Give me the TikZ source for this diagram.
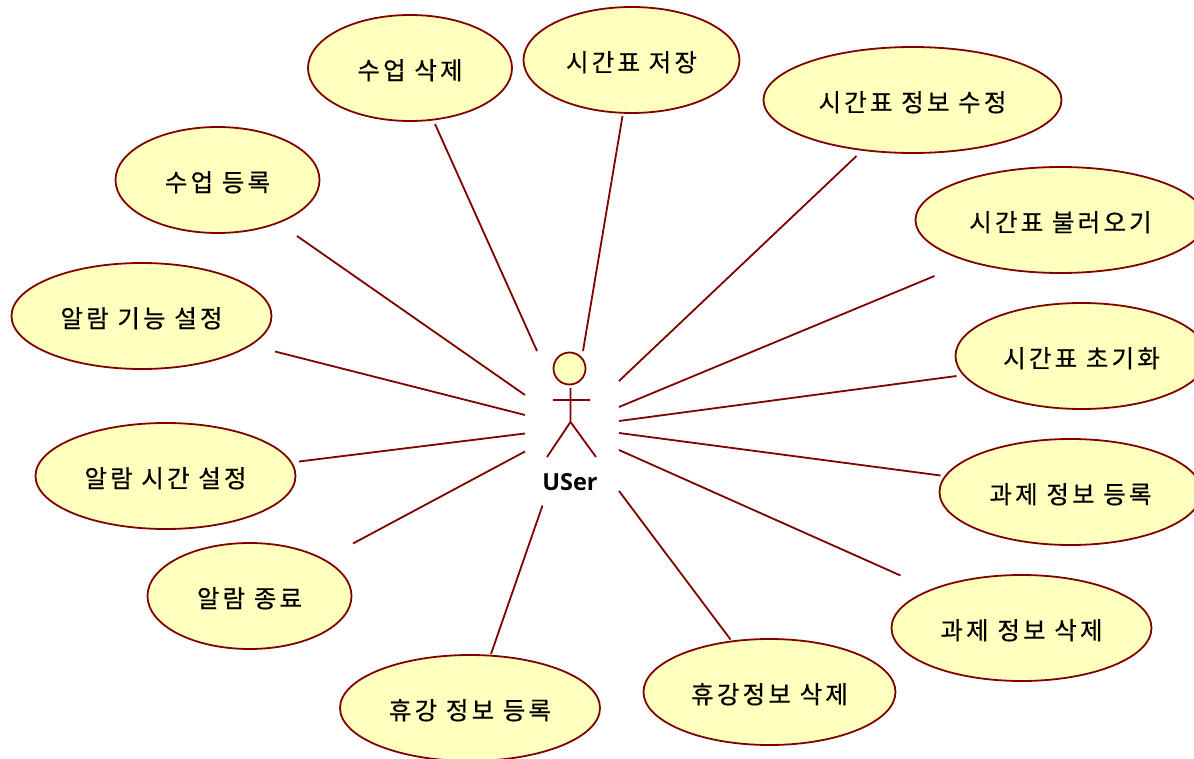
\documentclass[tikz,border=0pt]{standalone}
\usepackage{fontspec}
\usetikzlibrary{shapes.geometric}
\newfontfamily\krfont[LetterSpace=13,FakeBold=0.5]{Noto Sans CJK KR}
\newfontfamily\actorfont{Open Sans}
\definecolor{umlline}{RGB}{128,0,0}
\definecolor{umlfill}{RGB}{255,255,190}
\tikzset{
  x=1pt,y=-1pt,
  usecase/.style={ellipse,draw=umlline,fill=umlfill,line width=1.8pt,inner sep=0pt,
    minimum height=106pt,font=\krfont\fontsize{24.5}{28}\selectfont,text=black,
    text depth=0pt,text height=23pt},
  assoc/.style={draw=umlline,line width=1.8pt},
  limb/.style={draw=umlline,line width=1.8pt},
}
\begin{document}
\begin{tikzpicture}
\useasboundingbox (0,0) rectangle (1194,759);
\clip (0,0) rectangle (1194,759);
% use cases
\node[usecase,minimum width=204pt] (a) at (410,68) {수업 삭제};
\node[usecase,minimum width=216pt] (b) at (631.5,60) {시간표 저장};
\node[usecase,minimum width=298pt] (c) at (912.5,100) {시간표 정보 수정};
\node[usecase,minimum width=204pt] (d) at (217.5,180) {수업 등록};
\node[usecase,minimum width=290pt] (e) at (1060.5,220) {시간표 불러오기};
\node[usecase,minimum width=252pt] (f) at (1081.5,356) {시간표 초기화};
\node[usecase,minimum width=262pt] (g) at (1070.5,492) {과제 정보 등록};
\node[usecase,minimum width=260pt] (h) at (1021.5,628) {과제 정보 삭제};
\node[usecase,minimum width=252pt] (i) at (769.5,692) {휴강정보 삭제};
\node[usecase,minimum width=260pt] (j) at (470,708) {휴강 정보 등록};
\node[usecase,minimum width=204pt] (k) at (249.5,596) {알람 종료};
\node[usecase,minimum width=260pt] (l) at (165.5,476) {알람 시간 설정};
\node[usecase,minimum width=260pt] (m) at (141.5,316) {알람 기능 설정};
% actor
\node[circle,draw=umlline,fill=umlfill,line width=1.8pt,minimum size=32pt,inner sep=0pt] (head) at (569.5,368.5) {};
\coordinate (neck) at (570.5,388);
\coordinate (hip) at (570.5,422);
\coordinate (armL) at (553,400);
\coordinate (armR) at (590,400);
\coordinate (footL) at (547,457);
\coordinate (footR) at (596,457);
\draw[limb] (neck) -- (hip) (armL) -- (armR) (footL) -- (hip) -- (footR);
\node[font=\actorfont\bfseries\fontsize{23.5}{26}\selectfont,text=black] (actor) at (570,482) {USer};
% connector end points
\foreach \n/\x/\y in {
  a0/537/351, a1/435/124,
  b0/583/351, b1/622.5/116,
  c0/619/381, c1/856.5/156,
  d0/525/395, d1/297/236,
  e0/619/407, e1/934.5/276,
  f0/619/421, f1/956.5/376,
  g0/619/433, g1/940.5/475.5,
  h0/619/450, h1/900.5/575.5,
  i0/619/491, i1/730.5/639.5,
  j0/542.5/505.5, j1/491/654,
  k0/525/451.5, k1/353/543.5,
  l0/525/433.5, l1/299/461.5,
  m0/525/415, m1/275/351.5}
  {\coordinate (\n) at (\x,\y);}
\foreach \n in {a,b,c,d,e,f,g,h,i,j,k,l,m}
  {\draw[assoc] (\n0) -- (\n1);}
\end{tikzpicture}
\end{document}
